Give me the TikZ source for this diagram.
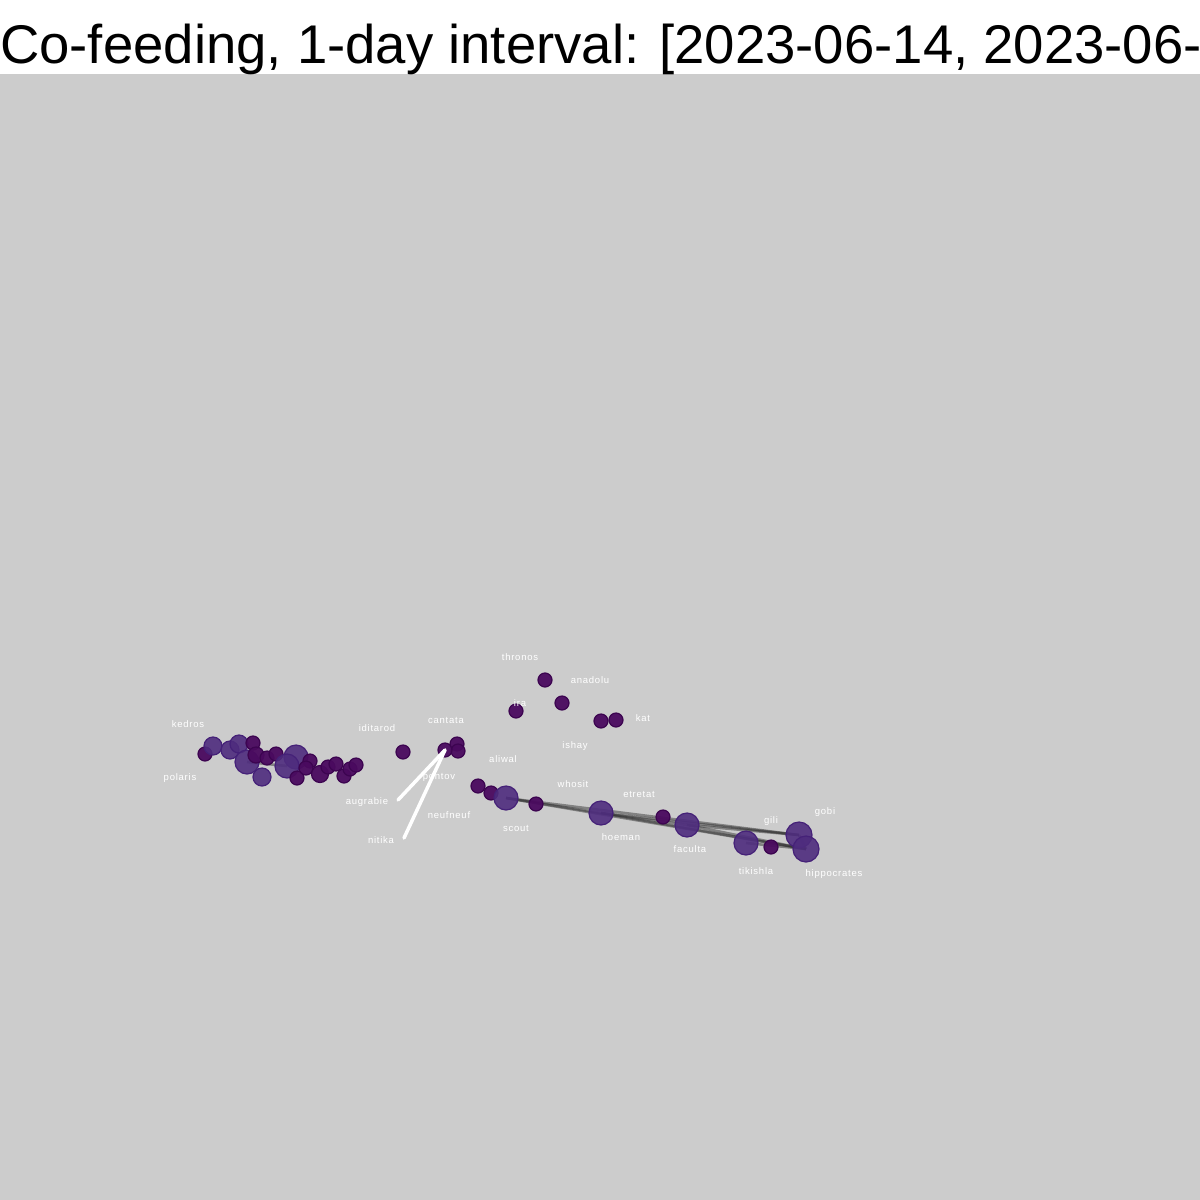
\documentclass[tikz,border=0pt]{standalone}
\usepackage{fontspec}
\setmainfont{Liberation Sans}
\newfontfamily\labfont[LetterSpace=8]{Liberation Sans}
\pgfdeclarelayer{bg}
\pgfsetlayers{bg,main}
\definecolor{panel}{HTML}{CCCCCC}
\definecolor{smallfill}{HTML}{4A0A5F}
\definecolor{smalldraw}{HTML}{3C0450}
\definecolor{bigfill}{HTML}{4E2C7E}
\definecolor{bigdraw}{HTML}{452178}
\definecolor{edgecol}{HTML}{2A2A2A}
\tikzset{
  sv/.style={circle,inner sep=0pt,minimum size=14pt,fill=smallfill,draw=smalldraw,line width=1.2pt,fill opacity=0.95},
  mv/.style={circle,inner sep=0pt,minimum size=18pt,fill=bigfill,draw=bigdraw,line width=1.2pt,fill opacity=0.9},
  bv/.style={circle,inner sep=0pt,minimum size=24pt,fill=bigfill,draw=bigdraw,line width=1.2pt,fill opacity=0.9},
  lab/.style={text=white,font=\labfont\fontsize{9.5}{10}\selectfont,inner sep=0pt},
  edge/.style={draw=edgecol,line width=2.6pt,opacity=0.45},
  wline/.style={draw=white,line width=3.5pt,line cap=round}
}
\begin{document}
\begin{tikzpicture}[x=1pt,y=-1pt]
\useasboundingbox (0,0) rectangle (1200,1200);
\clip (0,0) rectangle (1200,1200);
\begin{pgfonlayer}{bg}
\fill[white] (0,0) rectangle (1200,74);
\fill[panel] (0,74) rectangle (1200,1200);
\end{pgfonlayer}
\node[anchor=base west,inner sep=0pt,font=\fontsize{54.5}{55}\selectfont] (title) at (0,63) {Co-feeding, 1-day interval: [2023-06-14, 2023-06-};

% left cluster
\node[sv] (l1) at (205,754) {};
\node[mv] (l2) at (213,746) {};
\node[mv] (l3) at (230,750) {};
\node[mv] (l4) at (239,744) {};
\node[sv] (l5) at (253,743) {};
\node[bv] (l6) at (247,762) {};
\node[mv] (l7) at (262,777) {};
\node[sv,minimum size=16pt] (l8) at (256,755) {};
\node[sv] (l9) at (267,758) {};
\node[sv] (l10) at (276,754) {};
\node[bv] (l11) at (296,757) {};
\node[bv] (l12) at (287,766) {};
\node[sv] (l13) at (297,778) {};
\node[sv] (l14) at (310,761) {};
\node[sv] (l15) at (306,768) {};
\node[sv,minimum size=17pt] (l16) at (320,774) {};
\node[sv] (l17) at (328,767) {};
\node[sv] (l18) at (336,764) {};
\node[sv] (l19) at (344,776) {};
\node[sv] (l20) at (350,769) {};
\node[sv] (l21) at (356,765) {};
\node[lab] (kedros) at (188,724) {kedros};
\node[lab] (polaris) at (180,778) {polaris};

% middle
\node[sv] (iditarod) at (403,752) {};
\node[lab] at (377,728) {iditarod};
\node[sv] (c2) at (457,744) {};
\node[sv] (c3) at (458,751) {};
\node[sv] (pontov) at (445,750) {};
\node[lab] at (446,720) {cantata};
\node[lab] at (439,777) {pontov};
\coordinate (augrabie) at (398,800);
\coordinate (nitika) at (404,838);
\draw[wline] (augrabie) -- (pontov.center);
\draw[wline] (nitika) -- (pontov.center);
\node[lab] at (367,802) {augrabie};
\node[lab] at (381,840) {nitika};
\node[lab] at (449,815) {neufneuf};
\node[lab] at (503,759) {aliwal};

% top
\node[sv] (thronos) at (545,680) {};
\node[sv] (anadolu) at (562,703) {};
\node[sv] (ira) at (516,711) {};
\node[sv] (ishay) at (601,721) {};
\node[sv] (kat) at (616,720) {};
\node[lab] at (520,657) {thronos};
\node[lab] at (590,680) {anadolu};
\node[lab] at (520,703) {ira};
\node[lab] at (643,718) {kat};
\node[lab] at (575,746) {ishay};

% chain
\node[sv] (r1) at (478,786) {};
\node[sv] (r2) at (491,793) {};
\node[bv] (scout) at (506,798) {};
\node[sv] (whosit) at (536,804) {};
\node[bv] (hoeman) at (601,813) {};
\node[sv] (etretat) at (663,817) {};
\node[bv] (faculta) at (687,825) {};
\node[bv] (tikishla) at (746,843) {};
\node[sv] (gili) at (771,847) {};
\node[bv,minimum size=26pt] (gobi) at (799,835) {};
\node[bv,minimum size=26pt] (hippocrates) at (806,849) {};
\node[lab] at (516,828) {scout};
\node[lab] at (573,784) {whosit};
\node[lab] at (621,837) {hoeman};
\node[lab] at (639,794) {etretat};
\node[lab] at (690,849) {faculta};
\node[lab] at (771,821) {gili};
\node[lab] at (825,812) {gobi};
\node[lab] at (756,871) {tikishla};
\node[lab] at (834,874) {hippocrates};

\begin{pgfonlayer}{bg}
\draw[edge] (scout.center) -- (gobi.center);
\draw[edge] (scout.center) -- (hippocrates.center);
\draw[edge] (scout.center) -- (hoeman.center);
\draw[edge] (hoeman.center) -- (gobi.center);
\draw[edge] (hoeman.center) -- (hippocrates.center);
\draw[edge] (hoeman.center) -- (faculta.center);
\draw[edge] (faculta.center) -- (gobi.center);
\draw[edge] (faculta.center) -- (hippocrates.center);
\draw[edge] (tikishla.center) -- (hippocrates.center);
\draw[edge] (gobi.center) -- (hippocrates.center);
\draw[edge] (l6.center) -- (l12.center);
\end{pgfonlayer}
\end{tikzpicture}
\end{document}
